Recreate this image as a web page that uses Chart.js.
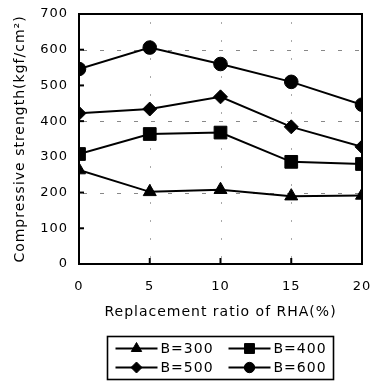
<!DOCTYPE html>
<html><head><meta charset="utf-8">
<script src="https://cdn.jsdelivr.net/npm/chart.js@4/dist/chart.umd.min.js"></script>
<style>html,body{margin:0;padding:0;background:#fff}#wrap{width:374px;height:381px}</style>
</head><body><div id="wrap"><canvas id="c" width="374" height="381"></canvas></div>
<script>
// ---- data ----
const ratios = [0, 5, 10, 15, 20];
const b300 = [263, 202, 208, 190, 192];
const b400 = [308, 364, 368, 286, 280];
const b500 = [422, 434, 468, 384, 328];
const b600 = [546, 606, 560, 510, 446];
const seriesLabels = ['B=300', 'B=400', 'B=500', 'B=600'];
const yTickValues = [0, 100, 200, 300, 400, 500, 600, 700];
const xTickValues = [0, 5, 10, 15, 20];
const gridYValues = [200, 400, 600];
const gridXValues = [5, 10, 15];
const xTitle = 'Replacement ratio of RHA(%)';
const yTitle = 'Compressive strength(kgf/cm\u00B2)';

const FONT = "'DejaVu Sans', sans-serif";
const styles = [
  {pointStyle: 'triangle', radius: 7.5, legendRadius: 6},
  {pointStyle: 'rect', radius: 9, legendRadius: 7},
  {pointStyle: 'rectRot', radius: 7, legendRadius: 5.5},
  {pointStyle: 'circle', radius: 6.8, legendRadius: 5.2}
];
const seriesValues = [b300, b400, b500, b600];

const datasets = seriesValues.map((vals, i) => ({
  label: seriesLabels[i],
  data: ratios.map((r, j) => ({x: r, y: vals[j]})),
  borderColor: '#000',
  backgroundColor: '#000',
  borderWidth: 2,
  pointStyle: styles[i].pointStyle,
  pointRadius: styles[i].radius,
  pointBorderWidth: 1,
  pointBackgroundColor: '#000',
  pointBorderColor: '#000',
  tension: 0
}));

function drawMarker(ctx, style, r, x, y) {
  if (Chart.helpers && Chart.helpers.drawPoint) {
    ctx.fillStyle = '#000'; ctx.strokeStyle = '#000'; ctx.lineWidth = 1;
    Chart.helpers.drawPoint(ctx, {pointStyle: style, radius: r, rotation: 0, borderWidth: 1}, x, y);
    return;
  }
  ctx.beginPath();
  if (style === 'circle') ctx.arc(x, y, r, 0, Math.PI * 2);
  else if (style === 'rect') { const s = r * Math.SQRT1_2; ctx.rect(x - s, y - s, 2 * s, 2 * s); }
  else if (style === 'rectRot') { ctx.moveTo(x, y - r); ctx.lineTo(x + r, y); ctx.lineTo(x, y + r); ctx.lineTo(x - r, y); ctx.closePath(); }
  else { const w = r * Math.sqrt(3) / 2; ctx.moveTo(x, y - r); ctx.lineTo(x + w, y + r / 2); ctx.lineTo(x - w, y + r / 2); ctx.closePath(); }
  ctx.fillStyle = '#000'; ctx.fill();
}

const spacingPlugin = {
  id: 'spacing',
  beforeDraw(chart) { chart.ctx.letterSpacing = '1px'; }
};

const framePlugin = {
  id: 'framePlugin',
  beforeDatasetsDraw(chart) {
    const {ctx, chartArea: a, scales: {x, y}} = chart;
    ctx.save();
    // dashed grid
    ctx.strokeStyle = '#888'; ctx.lineWidth = 1; ctx.setLineDash([4, 13]);
    gridYValues.forEach(v => {
      const py = Math.round(y.getPixelForValue(v)) + 0.5;
      ctx.beginPath(); ctx.moveTo(a.left + 4, py); ctx.lineTo(a.right, py); ctx.stroke();
    });
    ctx.strokeStyle = '#aaa'; ctx.setLineDash([2, 16]);
    gridXValues.forEach(v => {
      const px = Math.round(x.getPixelForValue(v)) + 0.5;
      ctx.beginPath(); ctx.moveTo(px, a.bottom - 6); ctx.lineTo(px, a.top); ctx.stroke();
    });
    ctx.setLineDash([]);
    // frame
    ctx.strokeStyle = '#000'; ctx.lineWidth = 2;
    ctx.strokeRect(a.left, a.top, a.right - a.left, a.bottom - a.top);
    // inward ticks
    ctx.lineWidth = 2;
    yTickValues.forEach(v => {
      if (v === 0 || v === 700) return;
      const py = y.getPixelForValue(v);
      ctx.beginPath(); ctx.moveTo(a.left, py); ctx.lineTo(a.left + 5, py); ctx.stroke();
    });
    gridXValues.forEach(v => {
      const px = x.getPixelForValue(v);
      ctx.beginPath(); ctx.moveTo(px, a.bottom); ctx.lineTo(px, a.bottom - 6); ctx.stroke();
    });
    ctx.restore();
  }
};

const legendPlugin = {
  id: 'boxLegend',
  afterDraw(chart) {
    const ctx = chart.ctx;
    const boxW = 226, boxH = 43;
    const bx = 107.5, by = 336.5;
    ctx.save();
    ctx.strokeStyle = '#000'; ctx.lineWidth = 1.6;
    ctx.strokeRect(bx, by, boxW, boxH);
    const cols = [bx + 8, bx + 121];
    const rows = [by + 12, by + 31];
    ctx.font = '14px ' + FONT;
    ctx.letterSpacing = '1px';
    ctx.textBaseline = 'middle';
    ctx.textAlign = 'left';
    chart.data.datasets.forEach((ds, i) => {
      const cx = cols[i % 2], cy = rows[Math.floor(i / 2)];
      const lineLen = 42;
      ctx.strokeStyle = '#000'; ctx.lineWidth = 2;
      ctx.beginPath(); ctx.moveTo(cx, cy); ctx.lineTo(cx + lineLen, cy); ctx.stroke();
      drawMarker(ctx, styles[i].pointStyle, styles[i].legendRadius, cx + lineLen / 2, cy);
      ctx.fillStyle = '#000';
      ctx.fillText(ds.label, cx + lineLen + 3, cy + 1);
    });
    ctx.restore();
  }
};

new Chart(document.getElementById('c'), {
  type: 'line',
  data: {datasets},
  options: {
    responsive: false,
    animation: false,
    layout: {padding: {top: 14, right: 12, left: 0, bottom: 60}},
    plugins: {legend: {display: false}, tooltip: {enabled: false}},
    scales: {
      x: {
        type: 'linear', min: 0, max: 20,
        afterBuildTicks(s) { s.ticks = xTickValues.map(v => ({value: v})); },
        afterFit(s) { s.height = 57; s.paddingLeft = 0; s.paddingRight = 0; },
        grid: {display: false, drawTicks: false, tickLength: 0},
        border: {display: false},
        ticks: {color: '#000', font: {family: FONT, size: 13}, padding: 15, maxRotation: 0},
        title: {display: true, text: xTitle, color: '#000', font: {family: FONT, size: 14}, padding: {top: 0, bottom: 0}}
      },
      y: {
        type: 'linear', min: 0, max: 700,
        afterBuildTicks(s) { s.ticks = yTickValues.map(v => ({value: v})); },
        afterFit(s) { s.width = 79; s.paddingTop = 0; s.paddingBottom = 0; },
        grid: {display: false, drawTicks: false, tickLength: 0},
        border: {display: false},
        ticks: {color: '#000', font: {family: FONT, size: 13}, padding: 11},
        title: {display: true, text: yTitle, color: '#000', font: {family: FONT, size: 14}, padding: {top: 12, bottom: 0}}
      }
    }
  },
  plugins: [spacingPlugin, framePlugin, legendPlugin]
});
</script>
</body></html>
